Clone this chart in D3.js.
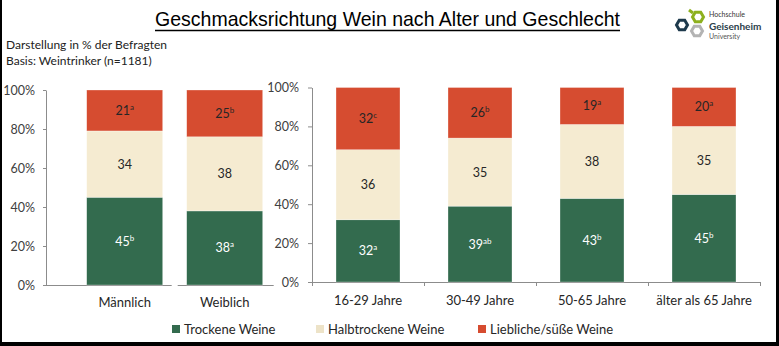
<!DOCTYPE html>
<html><head><meta charset="utf-8">
<script src="https://cdn.jsdelivr.net/npm/d3@7"></script>
<style>html,body{margin:0;padding:0;background:#fff;}svg{display:block;}</style>
</head><body>
<svg id="c" width="779" height="346"></svg>
<script>
// ---- data ----
const genderCats = ["Männlich", "Weiblich"];
const ageCats = ["16-29 Jahre", "30-49 Jahre", "50-65 Jahre", "älter als 65 Jahre"];
const categories = genderCats.concat(ageCats);
const seriesNames = ["Trockene Weine", "Halbtrockene Weine", "Liebliche/süße Weine"];
const trocken  = [45, 38, 32, 39, 43, 45];
const halb     = [34, 38, 36, 35, 38, 35];
const lieblich = [21, 25, 32, 26, 19, 20];
const supTrocken  = ["b", "a", "a", "ab", "b", "b"];
const supHalb     = ["", "", "", "", "", ""];
const supLieblich = ["a", "b", "c", "b", "a", "a"];
const yTicks = [0, 20, 40, 60, 80, 100];
const colors = ["#336b4e", "#f5ebd1", "#d64c30"];
const labelColors = ["#ffffff", "#262626", "#262626"];

const svg = d3.select("#c");
const FONT = "Lato, 'Open Sans', sans-serif";

// rows
const rows = categories.map((c, i) => ({cat: c, k0: trocken[i], k1: halb[i], k2: lieblich[i]}));
const sups = [supTrocken, supHalb, supLieblich];
const stack = d3.stack().keys(["k0", "k1", "k2"])(rows);

// ---- frame ----
svg.append("rect").attr("x", 0).attr("y", 0).attr("width", 2).attr("height", 346).attr("fill", "#000");
svg.append("rect").attr("x", 776).attr("y", 0).attr("width", 3).attr("height", 346).attr("fill", "#000");
svg.append("rect").attr("x", 0).attr("y", 342).attr("width", 779).attr("height", 4).attr("fill", "#000");

// ---- title ----
svg.append("text").attr("x", 155).attr("y", 26).attr("textLength", 465).attr("lengthAdjust", "spacingAndGlyphs")
  .style("font-family", "'Liberation Sans', Arial, sans-serif").style("font-size", "21px").attr("fill", "#000")
  .text("Geschmacksrichtung Wein nach Alter und Geschlecht");
svg.append("line").attr("x1", 155).attr("x2", 620).attr("y1", 30.5).attr("y2", 30.5).attr("stroke", "#000").attr("stroke-width", 1.5);

svg.append("text").attr("x", 6).attr("y", 49).style("font-family", FONT).style("font-size", "12px").attr("fill", "#222")
  .text("Darstellung in % der Befragten");
svg.append("text").attr("x", 6).attr("y", 65).style("font-family", FONT).style("font-size", "12px").attr("fill", "#222")
  .text("Basis: Weintrinker (n=1181)");

// ---- logo ----
function hex(cx, cy, r) {
  const p = d3.range(6).map(i => { const a = Math.PI / 3 * i; return [cx + r * Math.cos(a), cy + r * Math.sin(a)]; });
  return "M" + p.map(d => d.join(",")).join("L") + "Z";
}
const logo = svg.append("g");
logo.append("path").attr("d", hex(697, 31, 5.5)).attr("fill", "none").attr("stroke", "#b3b3b3").attr("stroke-width", 3);
logo.append("path").attr("d", hex(682, 25, 5.5)).attr("fill", "none").attr("stroke", "#1e3a4c").attr("stroke-width", 3);
logo.append("path").attr("d", hex(698, 17, 5.5)).attr("fill", "none").attr("stroke", "#8db01e").attr("stroke-width", 3);
logo.append("line").attr("x1", 693).attr("y1", 13).attr("x2", 689).attr("y2", 10).attr("stroke", "#8db01e").attr("stroke-width", 3);
logo.append("text").attr("x", 709).attr("y", 17).style("font-family", FONT).style("font-size", "7px").attr("fill", "#333").text("Hochschule");
logo.append("text").attr("x", 709).attr("y", 29.5).style("font-family", FONT).style("font-size", "10px").style("font-weight", "bold").attr("fill", "#2b3e4a").text("Geisenheim");
logo.append("text").attr("x", 709).attr("y", 38.5).style("font-family", FONT).style("font-size", "7px").attr("fill", "#555").text("University");

// ---- charts ----
function drawChart(cfg) {
  const g = svg.append("g");
  const idx = cfg.cats.map(c => categories.indexOf(c));
  const x = d3.scaleBand().domain(cfg.cats).range(cfg.xRange).paddingInner(cfg.pi).paddingOuter(cfg.po);
  const y = d3.scaleLinear().domain([0, 100]).range(cfg.yRange).clamp(true);

  // y axis
  const ax = g.append("g").attr("transform", `translate(${cfg.axisX},0)`)
    .call(d3.axisLeft(y).tickValues(yTicks).tickFormat(d => d + "%").tickSize(cfg.tick).tickSizeOuter(0).tickPadding(cfg.pad));
  ax.select(".domain").attr("stroke", "#8c8c8c");
  ax.selectAll(".tick line").attr("stroke", "#8c8c8c");
  ax.selectAll(".tick text").style("font-family", FONT).style("font-size", "12.5px").attr("fill", "#404040");

  // baseline
  const y0 = y(0);
  cfg.baseline(g, x, y0);

  // bars
  stack.forEach((s, si) => {
    idx.forEach(i => {
      const d = s[i];
      const c = categories[i];
      g.append("rect").attr("x", x(c)).attr("width", x.bandwidth())
        .attr("y", y(d[1])).attr("height", y(d[0]) - y(d[1]))
        .attr("fill", colors[si]).attr("stroke", "#ffffff").attr("stroke-opacity", 0.5).attr("stroke-width", 0.6);
      const cy = (y(d[0]) + y(d[1])) / 2;
      const t = g.append("text").attr("x", x(c) + x.bandwidth() / 2).attr("y", cy + 4.5)
        .attr("text-anchor", "middle").style("font-family", FONT).style("font-size", "12.5px").attr("fill", labelColors[si]);
      t.append("tspan").text(d[1] - d[0] > 0 ? (d.data["k" + si]) : "");
      if (sups[si][i]) t.append("tspan").attr("dy", -5).style("font-size", "8px").text(sups[si][i]);
    });
  });

  // x labels
  cfg.cats.forEach(c => {
    g.append("text").attr("x", x(c) + x.bandwidth() / 2).attr("y", cfg.labelY).attr("text-anchor", "middle")
      .style("font-family", FONT).style("font-size", "13px").attr("fill", "#262626").text(c);
  });
}

drawChart({
  cats: genderCats, xRange: [62.7, 286.7], pi: 0.24, po: 0.24, yRange: [285, 90],
  axisX: 46, tick: 3, pad: 8, labelY: 307,
  baseline: (g, x, y0) => {
    const b = (x(genderCats[0]) + x.bandwidth() + x(genderCats[1])) / 2;
    const end = x(genderCats[1]) + x.bandwidth() + 11;
    [[46, b - 3], [b + 3, end]].forEach(s => g.insert("line", ":first-child").attr("x1", s[0]).attr("x2", s[1])
      .attr("y1", y0 + 0.5).attr("y2", y0 + 0.5).attr("stroke", "#8c8c8c"));
  }
});

drawChart({
  cats: ageCats, xRange: [312, 760], pi: 0.4286, po: 0.2143, yRange: [282, 87.5],
  axisX: 312, tick: 4, pad: 9, labelY: 305,
  baseline: (g, x, y0) => {
    const r = x.range();
    g.insert("line", ":first-child").attr("x1", r[0]).attr("x2", r[1]).attr("y1", y0 + 0.5).attr("y2", y0 + 0.5).attr("stroke", "#8c8c8c");
    d3.range(ageCats.length + 1).forEach(i => {
      const bx = Math.round(r[0] + i * x.step()) + 0.5;
      g.append("line").attr("x1", bx).attr("x2", bx).attr("y1", y0).attr("y2", y0 + 4).attr("stroke", "#8c8c8c");
    });
  }
});

// ---- legend ----
const legX = [172, 316, 478];
seriesNames.forEach((n, i) => {
  svg.append("rect").attr("x", legX[i]).attr("y", 325).attr("width", 8).attr("height", 8).attr("fill", colors[i] === "#f5ebd1" ? "#ede3c8" : colors[i]);
  svg.append("text").attr("x", legX[i] + 12).attr("y", 333.5).style("font-family", FONT).style("font-size", "13px")
    .attr("fill", "#262626").text(n);
});
</script>
</body></html>
